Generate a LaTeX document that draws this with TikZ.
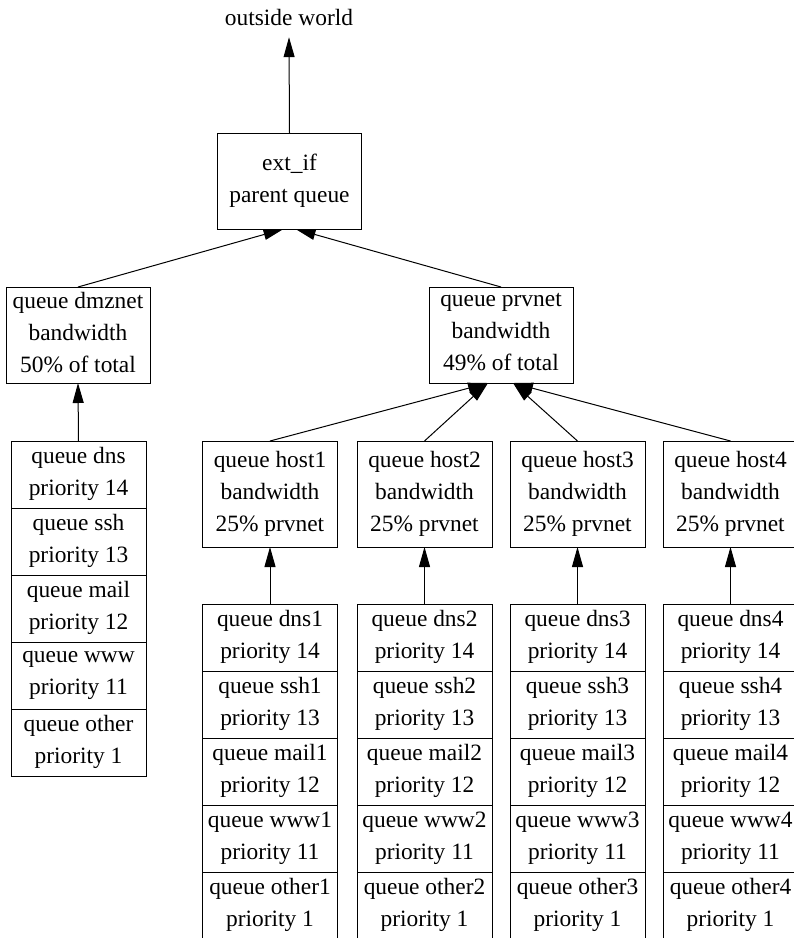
\documentclass[tikz,border=0pt]{standalone}
\usepackage{fontspec}
\setmainfont{Liberation Serif}
\usetikzlibrary{positioning,arrows.meta,calc}
\newcommand{\qstrut}{\rule[-5.6pt]{0pt}{32pt}}

\begin{document}
\begin{tikzpicture}[
    x=1pt, y=-1pt,
    >={Triangle[length=20pt,width=11pt]},
    font=\fontsize{23.4}{32}\selectfont,
    node distance=0pt,
    box/.style={draw, line width=1pt, align=center, inner sep=0pt, outer sep=0pt,
      minimum width=144pt, minimum height=96pt,
      execute at begin node=\qstrut, execute at end node=\qstrut},
    hostbox/.style={box, minimum width=135pt, minimum height=106pt},
    cell/.style={box, minimum width=135pt, minimum height=67pt},
    arr/.style={->, line width=1pt},
  ]
\useasboundingbox (0,0) rectangle (794,938);
\clip (0,0) rectangle (794,938);

% Top of the tree
\node[inner sep=0pt, minimum height=40pt] (world) at (289,17) {outside world};
\node[box] (extif) at (289.5,181) {ext\_if\\parent queue};

% Second level
\node[box] (dmznet) at (78,335) {queue dmznet\\bandwidth\\50\% of total};
\node[box] (prvnet) at (501,335) {queue prvnet\\bandwidth\\49\% of total};

% dmznet leaf queues
\node[cell] (dns) at (78.5,474.5) {queue dns\\priority 14};
\node[cell, below=of dns] (ssh) {queue ssh\\priority 13};
\node[cell, below=of ssh] (mail) {queue mail\\priority 12};
\node[cell, below=of mail] (www) {queue www\\priority 11};
\node[cell, below=of www] (other) {queue other\\priority 1};

% prvnet hosts
\node[hostbox] (host1) at (270,494) {queue host1\\bandwidth\\25\% prvnet};
\node[hostbox] (host2) at (424.5,494) {queue host2\\bandwidth\\25\% prvnet};
\node[hostbox] (host3) at (577.5,494) {queue host3\\bandwidth\\25\% prvnet};
\node[hostbox] (host4) at (730.5,494) {queue host4\\bandwidth\\25\% prvnet};

% host leaf queues
\node[cell, below=57pt of host1] (dns1) {queue dns1\\priority 14};
\node[cell, below=of dns1] (ssh1) {queue ssh1\\priority 13};
\node[cell, below=of ssh1] (mail1) {queue mail1\\priority 12};
\node[cell, below=of mail1] (www1) {queue www1\\priority 11};
\node[cell, below=of www1] (other1) {queue other1\\priority 1};

\node[cell, below=57pt of host2] (dns2) {queue dns2\\priority 14};
\node[cell, below=of dns2] (ssh2) {queue ssh2\\priority 13};
\node[cell, below=of ssh2] (mail2) {queue mail2\\priority 12};
\node[cell, below=of mail2] (www2) {queue www2\\priority 11};
\node[cell, below=of www2] (other2) {queue other2\\priority 1};

\node[cell, below=57pt of host3] (dns3) {queue dns3\\priority 14};
\node[cell, below=of dns3] (ssh3) {queue ssh3\\priority 13};
\node[cell, below=of ssh3] (mail3) {queue mail3\\priority 12};
\node[cell, below=of mail3] (www3) {queue www3\\priority 11};
\node[cell, below=of www3] (other3) {queue other3\\priority 1};

\node[cell, below=57pt of host4] (dns4) {queue dns4\\priority 14};
\node[cell, below=of dns4] (ssh4) {queue ssh4\\priority 13};
\node[cell, below=of ssh4] (mail4) {queue mail4\\priority 12};
\node[cell, below=of mail4] (www4) {queue www4\\priority 11};
\node[cell, below=of www4] (other4) {queue other4\\priority 1};

% Arrows: child to parent
\draw[arr] (extif.north) -- (world.south);
\draw[arr] (dmznet.north) -- ($(extif.south)+(-6,0)$);
\draw[arr] (prvnet.north) -- ($(extif.south)+(6,0)$);
\draw[arr] (dns.north) -- (dmznet.south);
\draw[arr] (host1.north) -- ($(prvnet.south)+(-13,0)$);
\draw[arr] (host2.north) -- ($(prvnet.south)+(-13,0)$);
\draw[arr] (host3.north) -- ($(prvnet.south)+(12,0)$);
\draw[arr] (host4.north) -- ($(prvnet.south)+(12,0)$);
\draw[arr] (dns1.north) -- (host1.south);
\draw[arr] (dns2.north) -- (host2.south);
\draw[arr] (dns3.north) -- (host3.south);
\draw[arr] (dns4.north) -- (host4.south);

\end{tikzpicture}
\end{document}
